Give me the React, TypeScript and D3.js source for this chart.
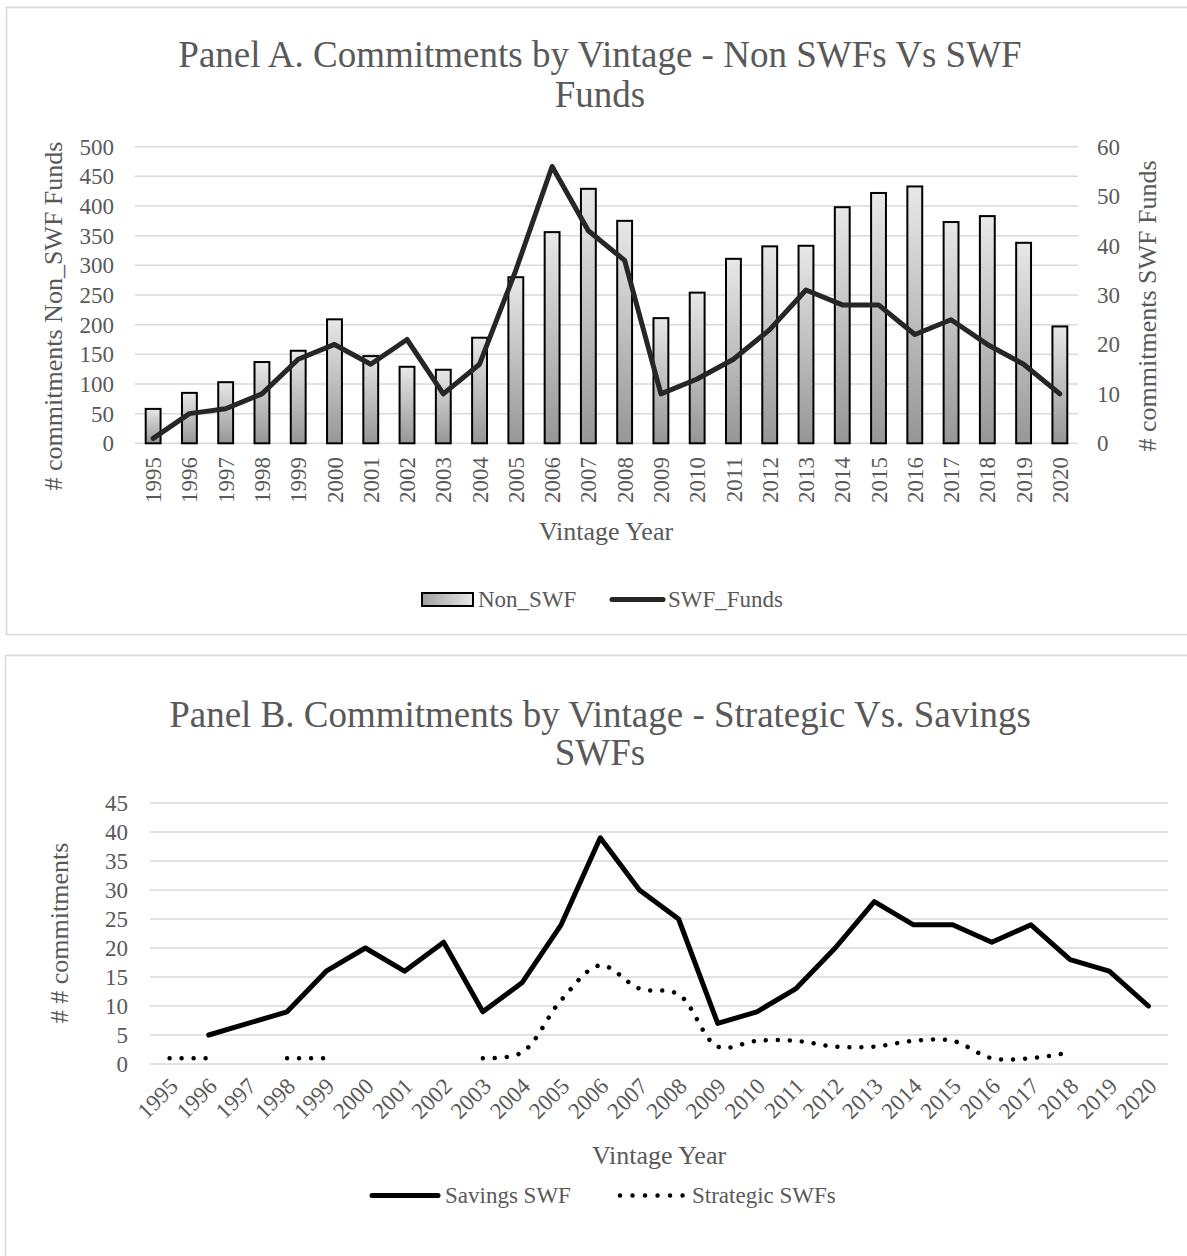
import { useEffect } from "react";
import * as d3 from "d3";

// vintage years and values
const years = ["1995", "1996", "1997", "1998", "1999", "2000", "2001", "2002", "2003", "2004", "2005", "2006", "2007",
  "2008", "2009", "2010", "2011", "2012", "2013", "2014", "2015", "2016", "2017", "2018", "2019", "2020"];
const nonSwf = [58, 85, 103, 137, 156, 209, 147, 129, 124, 178, 280, 356, 429, 375, 211, 254, 311, 332, 333, 398, 422, 433, 373, 383, 338, 197];
const swfFunds = [1, 6, 7, 10, 17, 20, 16, 21, 10, 16, 35, 56, 43, 37, 10, 13, 17, 23, 31, 28, 28, 22, 25, 20, 16, 10];
const savings: (number | null)[] = [null, 5, 7, 9, 16, 20, 16, 21, 9, 14, 24, 39, 30, 25, 7, 9, 13, 20, 28, 24, 24, 21, 24, 18, 16, 10];
const strategic: (number | null)[] = [1, 1, null, 1, 1, null, null, null, 1, 2, 11, 17, 13, 12, 3, 4, 4, 3, 3, 4, 4, 1, 1, 2, null, null];
const leftTicksA = [0, 50, 100, 150, 200, 250, 300, 350, 400, 450, 500];
const rightTicksA = [0, 10, 20, 30, 40, 50, 60];
const ticksB = [0, 5, 10, 15, 20, 25, 30, 35, 40, 45];

const FONT = "'Liberation Serif', 'Times New Roman', serif";
const TXT = "#595959";
const GRID = "#d9d9d9";

export default function App() {
  useEffect(() => {
    document.body.style.margin = "0";
  }, []);

  // Panel A scales
  const xA = d3.scaleBand<string>().domain(years).range([135, 1078]).paddingInner(0.59).paddingOuter(0.295);
  const yA = d3.scaleLinear().domain([0, 500]).range([443.3, 146.7]);
  const yA2 = d3.scaleLinear().domain([0, 60]).range([443.3, 146.7]);
  const cA = (y: string) => (xA(y) ?? 0) + xA.bandwidth() / 2;
  const lineA = d3.line<number>().x((_, i) => cA(years[i])).y((d) => yA2(d));

  // Panel B scales
  const xB = d3.scaleBand<string>().domain(years).range([150, 1168]);
  const yB = d3.scaleLinear().domain([0, 45]).range([1064, 803]);
  const cB = (y: string) => (xB(y) ?? 0) + xB.bandwidth() / 2;
  const savingsPath = d3.line<number | null>()
    .defined((d) => d !== null)
    .x((_, i) => cB(years[i]))
    .y((d) => yB(d as number))(savings);
  const strategicPath = d3.line<number | null>()
    .defined((d) => d !== null)
    .x((_, i) => cB(years[i]))
    .y((d) => yB(d as number))
    .curve(d3.curveCatmullRom.alpha(0.5))(strategic);

  return (
    <svg width={1187} height={1256} style={{ display: "block", fontFamily: FONT }}>
      <defs>
        <linearGradient id="barGrad" x1="0" y1="0" x2="0" y2="1">
          <stop offset="0" stopColor="#e8e8e8" />
          <stop offset="1" stopColor="#969696" />
        </linearGradient>
        <linearGradient id="legGrad" x1="0" y1="0" x2="1" y2="0">
          <stop offset="0" stopColor="#a0a0a0" />
          <stop offset="1" stopColor="#e8e8e8" />
        </linearGradient>
      </defs>

      {/* Panel A */}
      <rect x={6.5} y={7.5} width={1190} height={627} fill="#fff" stroke={GRID} strokeWidth={1.5} />
      <text x={600} y={67} textAnchor="middle" fontSize={37} fill={TXT}>
        Panel A. Commitments by Vintage - Non SWFs Vs SWF
      </text>
      <text x={600} y={107} textAnchor="middle" fontSize={37} fill={TXT}>Funds</text>

      {leftTicksA.map((t) => (
        <g key={"ga" + t}>
          <line x1={135} x2={1078} y1={yA(t)} y2={yA(t)} stroke={GRID} strokeWidth={1.5} />
          <text x={114} y={yA(t)} dy="0.35em" textAnchor="end" fontSize={23} fill={TXT}>{t}</text>
        </g>
      ))}
      {rightTicksA.map((t) => (
        <text key={"ra" + t} x={1097} y={yA2(t)} dy="0.35em" fontSize={23} fill={TXT}>{t}</text>
      ))}

      {nonSwf.map((v, i) => (
        <rect key={"b" + i} x={xA(years[i])} y={yA(v)} width={xA.bandwidth()} height={yA(0) - yA(v)}
          fill="url(#barGrad)" stroke="#000" strokeWidth={2} />
      ))}
      <path d={lineA(swfFunds) ?? ""} fill="none" stroke="#262626" strokeWidth={5} strokeLinejoin="round" strokeLinecap="round" />

      {years.map((y) => (
        <text key={"xa" + y} transform={`translate(${cA(y)},457) rotate(-90)`} dy="0.35em" textAnchor="end" fontSize={23} fill={TXT}>{y}</text>
      ))}
      <text x={606} y={540} textAnchor="middle" fontSize={26} fill={TXT}>Vintage Year</text>
      <text transform="translate(62,316) rotate(-90)" textAnchor="middle" fontSize={26} fill={TXT}># commitments Non_SWF Funds</text>
      <text transform="translate(1156,306) rotate(-90)" textAnchor="middle" fontSize={26} fill={TXT}># commitments SWF Funds</text>

      {/* legend A */}
      <rect x={422} y={593} width={51} height={13} fill="url(#legGrad)" stroke="#000" strokeWidth={2} />
      <text x={478} y={607} fontSize={23} fill={TXT}>Non_SWF</text>
      <line x1={612} x2={663} y1={599.5} y2={599.5} stroke="#262626" strokeWidth={5} strokeLinecap="round" />
      <text x={668} y={607} fontSize={23} fill={TXT}>SWF_Funds</text>

      {/* Panel B */}
      <rect x={5.5} y={655.5} width={1190} height={610} fill="#fff" stroke={GRID} strokeWidth={1.5} />
      <text x={600} y={727} textAnchor="middle" fontSize={37} fill={TXT}>
        Panel B. Commitments by Vintage - Strategic Vs. Savings
      </text>
      <text x={600} y={765} textAnchor="middle" fontSize={37} fill={TXT}>SWFs</text>

      {ticksB.map((t) => (
        <g key={"gb" + t}>
          <line x1={150} x2={1168} y1={yB(t)} y2={yB(t)} stroke={GRID} strokeWidth={1.5} />
          <text x={128} y={yB(t)} dy="0.35em" textAnchor="end" fontSize={23} fill={TXT}>{t}</text>
        </g>
      ))}
      <path d={savingsPath ?? ""} fill="none" stroke="#000" strokeWidth={5} strokeLinejoin="round" strokeLinecap="round" />
      <path d={strategicPath ?? ""} fill="none" stroke="#000" strokeWidth={4.5} strokeDasharray="0.01 12" strokeLinecap="round" />

      {years.map((y) => (
        <text key={"xb" + y} transform={`translate(${cB(y) + 4},1082) rotate(-45)`} dy="0.35em" textAnchor="end" fontSize={23} fill={TXT}>{y}</text>
      ))}
      <text x={659} y={1164} textAnchor="middle" fontSize={26} fill={TXT}>Vintage Year</text>
      <text transform="translate(68,933) rotate(-90)" textAnchor="middle" fontSize={26} fill={TXT}># # commitments</text>

      {/* legend B */}
      <line x1={372} x2={438} y1={1195.5} y2={1195.5} stroke="#000" strokeWidth={5} strokeLinecap="round" />
      <text x={445} y={1203} fontSize={23} fill={TXT}>Savings SWF</text>
      <line x1={620} x2={688} y1={1195.5} y2={1195.5} stroke="#000" strokeWidth={4.5} strokeDasharray="0.01 12.5" strokeLinecap="round" />
      <text x={692} y={1203} fontSize={23} fill={TXT}>Strategic SWFs</text>
    </svg>
  );
}
